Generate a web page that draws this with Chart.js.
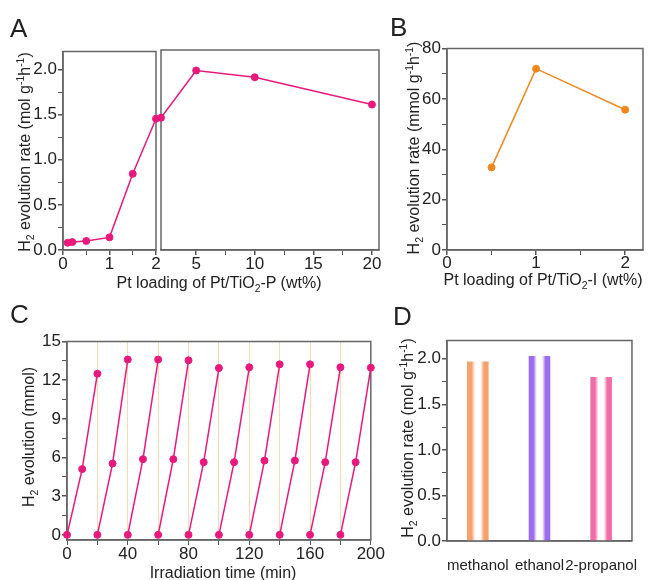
<!DOCTYPE html>
<html>
<head>
<meta charset="utf-8">
<script src="https://cdn.jsdelivr.net/npm/chart.js@4.4.1/dist/chart.umd.min.js"></script>
<style>
  body { margin: 0; background: #fff; }
  #wrap { position: relative; width: 661px; height: 580px; overflow: hidden; font-family: "Liberation Sans", Arial, sans-serif; color: #222; }
  canvas { position: absolute; }
  .lbl { position: absolute; font-size: 26px; line-height: 26px; }
  .tt { position: absolute; font-size: 16px; line-height: 16px; white-space: nowrap; transform: translate(-50%, -50%); }
  .tt.v { transform: translate(-50%, -50%) rotate(-90deg); }
  .tt sub, .tt sup { font-size: 0.65em; line-height: 0; }
</style>
</head>
<body>
<div id="wrap">
  <canvas id="cA1"></canvas>
  <canvas id="cA2"></canvas>
  <canvas id="cB"></canvas>
  <canvas id="cC"></canvas>
  <canvas id="cD"></canvas>

  <div class="lbl" style="left:10px;top:15px">A</div>
  <div class="lbl" style="left:390px;top:14px">B</div>
  <div class="lbl" style="left:10px;top:301px">C</div>
  <div class="lbl" style="left:393px;top:303px">D</div>

  <div class="tt v" style="left:25px;top:152px">H<sub>2</sub> evolution rate (mol g<sup>-1</sup>h<sup>-1</sup>)</div>
  <div class="tt" style="left:219px;top:283px">Pt loading of Pt/TiO<sub>2</sub>-P (wt%)</div>
  <div class="tt v" style="left:414px;top:148px">H<sub>2</sub> evolution rate (mmol g<sup>-1</sup>h<sup>-1</sup>)</div>
  <div class="tt" style="left:543px;top:280px">Pt loading of Pt/TiO<sub>2</sub>-I (wt%)</div>
  <div class="tt v" style="left:29px;top:437px">H<sub>2</sub> evolution (mmol)</div>
  <div class="tt" style="left:223px;top:573px">Irradiation time (min)</div>
  <div class="tt v" style="left:408px;top:438px">H<sub>2</sub> evolution rate (mol g<sup>-1</sup>h<sup>-1</sup>)</div>
</div>
<script>
// A: Pt/TiO2-P, split x axis
const loadingLow = [0.1, 0.2, 0.5, 1, 1.5, 2];
const rateLow = [0.08, 0.088, 0.10, 0.14, 0.845, 1.455];
const loadingHigh = [2, 5, 10, 20];
const rateHigh = [1.455, 1.975, 1.90, 1.60];
const aYTicks = [0, 0.5, 1, 1.5, 2];
const aYMinor = [0.25, 0.75, 1.25, 1.75];
const aXLowTicks = [0, 1, 2];
const aXLowMinor = [0.5, 1.5];
const aXHighTicks = [5, 10, 15, 20];
const aXHighMinor = [7.5, 12.5, 17.5];

// B: Pt/TiO2-I
const loadingI = [0.5, 1, 2];
const rateI = [32.8, 72.0, 55.7];
const bYTicks = [0, 20, 40, 60, 80];
const bYMinor = [10, 30, 50, 70];
const bXTicks = [0, 1, 2];
const bXMinor = [0.5, 1.5];

// C: cycling
const cycleTimes = [
  [0, 10, 20], [20, 30, 40], [40, 50, 60], [60, 70, 80], [80, 90, 100],
  [100, 110, 120], [120, 130, 140], [140, 150, 160], [160, 170, 180], [180, 190, 200]
];
const cycleH2 = [
  [0, 5.1, 12.5], [0, 5.53, 13.6], [0, 5.87, 13.6], [0, 5.87, 13.54], [0, 5.64, 12.94],
  [0, 5.64, 13.0], [0, 5.76, 13.23], [0, 5.76, 13.23], [0, 5.64, 13.0], [0, 5.64, 12.97]
];
const cYTicks = [0, 3, 6, 9, 12, 15];
const cYMinor = [1.5, 4.5, 7.5, 10.5, 13.5];
const cXTicks = [0, 40, 80, 120, 160, 200];
const cXMinor = [20, 60, 100, 140, 180];

// D: sacrificial agents
const solvents = ['methanol', 'ethanol', '2-propanol'];
const rateSolvent = [1.97, 2.03, 1.80];
const solventColors = ['#f6a26c', '#9b6cf0', '#f26ca6'];
const dYTicks = [0, 0.5, 1, 1.5, 2];
const dYMinor = [0.25, 0.75, 1.25, 1.75];

const PINK = '#e8197d';
const ORANGE = '#f0871e';

Chart.defaults.font.family = '"Liberation Sans", Arial, sans-serif';
Chart.defaults.font.size = 17;
Chart.defaults.font.lineHeight = 1;
Chart.defaults.color = '#222';
Chart.defaults.animation = false;
Chart.defaults.plugins.legend.display = false;
Chart.defaults.plugins.tooltip.enabled = false;

// frame round the plot area
Chart.register({
  id: 'box',
  beforeDatasetsDraw(chart) {
    const a = chart.chartArea, c = chart.ctx;
    c.save();
    c.strokeStyle = '#666';
    c.lineWidth = 1.5;
    c.strokeRect(a.left, a.top, a.right - a.left, a.bottom - a.top);
    c.restore();
  }
});

function place(id, area, yw, xh) {
  const cv = document.getElementById(id);
  cv.width = area.r - area.l + yw + 6;
  cv.height = area.b - area.t + 8 + xh;
  cv.style.left = (area.l - yw) + 'px';
  cv.style.top = (area.t - 8) + 'px';
  return cv;
}

function axis(min, max, major, minor, fmt, size, isX, pad) {
  const all = major.concat(minor).sort((a, b) => a - b);
  return {
    type: 'linear', min: min, max: max,
    afterBuildTicks: s => { s.ticks = all.map(v => ({ value: v })); },
    afterFit: s => { if (isX) s.height = size; else s.width = size; },
    ticks: { autoSkip: false, maxRotation: 0, padding: pad === undefined ? 1 : pad,
             callback: v => major.includes(v) ? fmt(v) : '' },
    grid: { drawOnChartArea: false, tickLength: 5, color: '#555', tickColor: '#555',
            lineWidth: c => major.includes(c.tick && c.tick.value) ? 1.5 : 1 },
    border: { color: '#666', width: 1.5 }
  };
}

const fix1 = v => v.toFixed(1);
const int = v => String(v);

function lineSet(xs, ys, color) {
  return {
    data: xs.map((x, i) => ({ x: x, y: ys[i] })),
    borderColor: color, borderWidth: 1.5, tension: 0,
    pointRadius: 3.5, pointBackgroundColor: color, pointBorderColor: color, pointBorderWidth: 1,
    clip: false
  };
}

// A left
place('cA1', { l: 63, t: 50, r: 156, b: 250 }, 40, 30);
new Chart(document.getElementById('cA1'), {
  type: 'line',
  data: { datasets: [lineSet(loadingLow, rateLow, PINK)] },
  options: {
    responsive: false, devicePixelRatio: 1,
    layout: { padding: { top: 8, right: 6, left: 0, bottom: 0 } },
    scales: {
      x: axis(0, 2, aXLowTicks, aXLowMinor, int, 30, true),
      y: axis(0, 2.2, aYTicks, aYMinor, fix1, 40, false)
    }
  }
});

// A right
place('cA2', { l: 161, t: 50, r: 379, b: 250 }, 8, 30);
new Chart(document.getElementById('cA2'), {
  type: 'line',
  data: { datasets: [lineSet(loadingHigh, rateHigh, PINK)] },
  options: {
    responsive: false, devicePixelRatio: 1,
    layout: { padding: { top: 8, right: 6, left: 8, bottom: 0 } },
    scales: {
      x: axis(2, 20.6, aXHighTicks, aXHighMinor, int, 30, true),
      y: { type: 'linear', min: 0, max: 2.2, display: false }
    }
  }
});

// B
place('cB', { l: 447, t: 47, r: 643, b: 250 }, 40, 30);
new Chart(document.getElementById('cB'), {
  type: 'line',
  data: { datasets: [lineSet(loadingI, rateI, ORANGE)] },
  options: {
    responsive: false, devicePixelRatio: 1,
    layout: { padding: { top: 8, right: 6, left: 0, bottom: 0 } },
    scales: {
      x: axis(0, 2.2, bXTicks, bXMinor, int, 30, true, 0),
      y: axis(0, 80, bYTicks, bYMinor, int, 40, false)
    }
  }
});

// C
place('cC', { l: 67, t: 340, r: 380, b: 540 }, 40, 28);
const cX = axis(0, 200, cXTicks, cXMinor, int, 28, true);
cX.grid = Object.assign({}, cX.grid, {
  drawOnChartArea: true,
  color: c => (c.tick && c.tick.value > 0 && c.tick.value < 200) ? 'rgba(248,200,150,0.7)' : 'rgba(0,0,0,0)',
  lineWidth: 1
});
new Chart(document.getElementById('cC'), {
  type: 'line',
  data: { datasets: cycleTimes.map((t, i) => lineSet(t, cycleH2[i], PINK)) },
  options: {
    responsive: false, devicePixelRatio: 1,
    layout: { padding: { top: 8, right: 6, left: 0, bottom: 0 } },
    scales: {
      x: cX,
      y: axis(-0.4, 15, cYTicks, cYMinor, int, 40, false)
    }
  }
});

// D
function barFill(ctx) {
  const chart = ctx.chart, i = ctx.dataIndex;
  const col = solventColors[i];
  const xs = chart.scales.x;
  if (!chart.chartArea || !xs) return col;
  const cx = xs.getPixelForValue(i);
  const w = (xs.right - xs.left) / solvents.length * 0.35;
  const g = chart.ctx.createLinearGradient(cx - w / 2, 0, cx + w / 2, 0);
  g.addColorStop(0, col);
  g.addColorStop(0.22, col);
  g.addColorStop(0.38, 'rgba(255,255,255,0.85)');
  g.addColorStop(0.62, 'rgba(255,255,255,0.85)');
  g.addColorStop(0.78, col);
  g.addColorStop(1, col);
  return g;
}
place('cD', { l: 447, t: 339, r: 641, b: 541 }, 40, 36);
new Chart(document.getElementById('cD'), {
  type: 'bar',
  data: {
    labels: solvents,
    datasets: [{ data: rateSolvent, backgroundColor: barFill, borderWidth: 0,
                 barPercentage: 0.35, categoryPercentage: 1 }]
  },
  options: {
    responsive: false, devicePixelRatio: 1,
    layout: { padding: { top: 8, right: 6, left: 0, bottom: 0 } },
    scales: {
      x: {
        type: 'category',
        afterFit: s => { s.height = 36; },
        ticks: { autoSkip: false, maxRotation: 0, padding: 9, font: { size: 15 } },
        grid: { display: false },
        border: { color: '#666', width: 1.5 }
      },
      y: axis(0, 2.2, dYTicks, dYMinor, fix1, 40, false)
    }
  }
});
</script>
</body>
</html>
